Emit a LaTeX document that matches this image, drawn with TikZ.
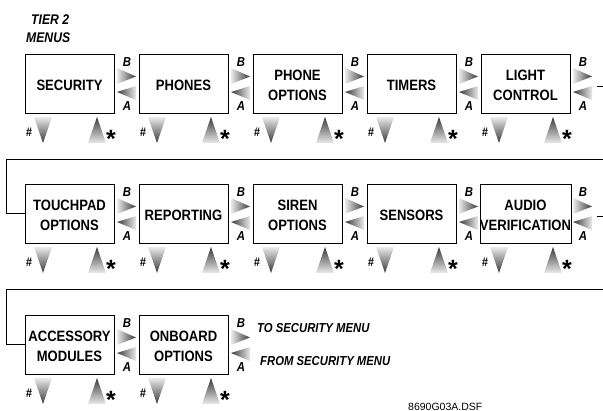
\documentclass[tikz,border=0pt]{standalone}
\usepackage{fontspec}
\setmainfont{Liberation Sans}
\newfontfamily\cnd[FakeStretch=0.87]{Liberation Sans}
\usetikzlibrary{calc}
\colorlet{shdark}{black!78}
\colorlet{shlight}{black!8}
\tikzset{
  menubox/.style={draw, line width=0.8pt, minimum width=89pt, minimum height=59pt,
    inner sep=0pt, align=center,
    font=\cnd\bfseries\fontsize{15}{19.5}\selectfont},
  lbl/.style={font=\cnd\bfseries\itshape\fontsize{13}{14}\selectfont, inner sep=0pt, anchor=base},
  hashlbl/.style={font=\cnd\bfseries\itshape\fontsize{12.5}{13}\selectfont, inner sep=0pt, anchor=base},
  starlbl/.style={font=\bfseries\fontsize{25}{26}\selectfont, inner sep=0pt, anchor=base},
  sep/.style={line width=0.8pt},
}
\newcommand\menubx[4]{% name, x0, top, text
  \node[menubox] (#1) at ({#2+44.5},{#3+29.5}) {\raisebox{-3pt}[\height][\depth]{\begin{tabular}{@{}c@{}}#4\end{tabular}}};
  \shade[top color=shlight, bottom color=shdark] ({#2+9},{#3+63}) -- ({#2+27},{#3+63}) -- ({#2+18},{#3+89}) -- cycle;
  \shade[top color=shdark, bottom color=shlight] ({#2+63},{#3+89}) -- ({#2+81},{#3+89}) -- ({#2+72},{#3+63}) -- cycle;
  \node[hashlbl] (#1h) at ({#2+4},{#3+83}) {\#};
  \node[starlbl] (#1s) at ({#2+86},{#3+93.5}) {*};
}
\newcommand\abarrows[3]{% name, x0, top
  \shade[left color=shlight, right color=shdark] ({#2+92},{#3+14}) -- ({#2+111},{#3+22.5}) -- ({#2+92},{#3+30}) -- cycle;
  \shade[left color=shdark, right color=shlight] ({#2+92},{#3+38}) -- ({#2+111},{#3+32}) -- ({#2+111},{#3+46}) -- cycle;
  \node[lbl] (#1B) at ({#2+102},{#3+13}) {B};
  \node[lbl] (#1A) at ({#2+102},{#3+57}) {A};
}
\begin{document}
\begin{tikzpicture}[x=1pt,y=-1pt]
\useasboundingbox (0,0) rectangle (603,411);
% titles
\node[font=\cnd\bfseries\itshape\fontsize{14}{16}\selectfont, inner sep=0pt, anchor=base west] (t1) at (31,25) {TIER 2};
\node[font=\cnd\bfseries\itshape\fontsize{14}{16}\selectfont, inner sep=0pt, anchor=base west] (t2) at (26,43) {MENUS};
% row 1
\menubx{b1}{25}{54}{SECURITY}\abarrows{a1}{25}{54}
\menubx{b2}{139}{54}{PHONES}\abarrows{a2}{139}{54}
\menubx{b3}{253}{54}{PHONE\\[1pt]OPTIONS}\abarrows{a3}{253}{54}
\menubx{b4}{367}{54}{TIMERS}\abarrows{a4}{367}{54}
\menubx{b5}{481}{54}{LIGHT\\[1pt]CONTROL}\abarrows{a5}{481}{54}
\coordinate (r1a) at (597,86); \coordinate (r1b) at (603,86);
\draw[sep] (r1a) -- (r1b);
% row 2
\menubx{b6}{25}{184}{TOUCHPAD\\[1pt]OPTIONS}\abarrows{a6}{25}{184}
\menubx{b7}{139}{184}{REPORTING}\abarrows{a7}{139}{184}
\menubx{b8}{253}{184}{SIREN\\[1pt]OPTIONS}\abarrows{a8}{253}{184}
\menubx{b9}{367}{184}{SENSORS}\abarrows{a9}{367}{184}
\menubx{b10}{481}{184}{AUDIO\\[1pt]VERIFICATION}\abarrows{a10}{481}{184}
\coordinate (r2a) at (597,216); \coordinate (r2b) at (603,216);
\draw[sep] (r2a) -- (r2b);
% row 3
\menubx{b11}{25}{315}{ACCESSORY\\[1pt]MODULES}\abarrows{a11}{25}{315}
\menubx{b12}{139}{315}{ONBOARD\\[1pt]OPTIONS}\abarrows{a12}{139}{315}
\node[lbl, anchor=base west] (to) at (257,333) {TO SECURITY MENU};
\node[lbl, anchor=base west] (from) at (260,366) {FROM SECURITY MENU};
% separators
\coordinate (s1) at (603,159);
\draw[sep] (s1) -| ($(b6.west)+(-18,0)$) -- (b6.west);
\coordinate (s2) at (603,289);
\draw[sep] (s2) -| ($(b11.west)+(-18,0)$) -- (b11.west);
\node[font=\fontsize{10.5}{12}\selectfont, inner sep=0pt, anchor=base west] (fn) at (408,410.5) {8690G03A.DSF};
\end{tikzpicture}
\end{document}
